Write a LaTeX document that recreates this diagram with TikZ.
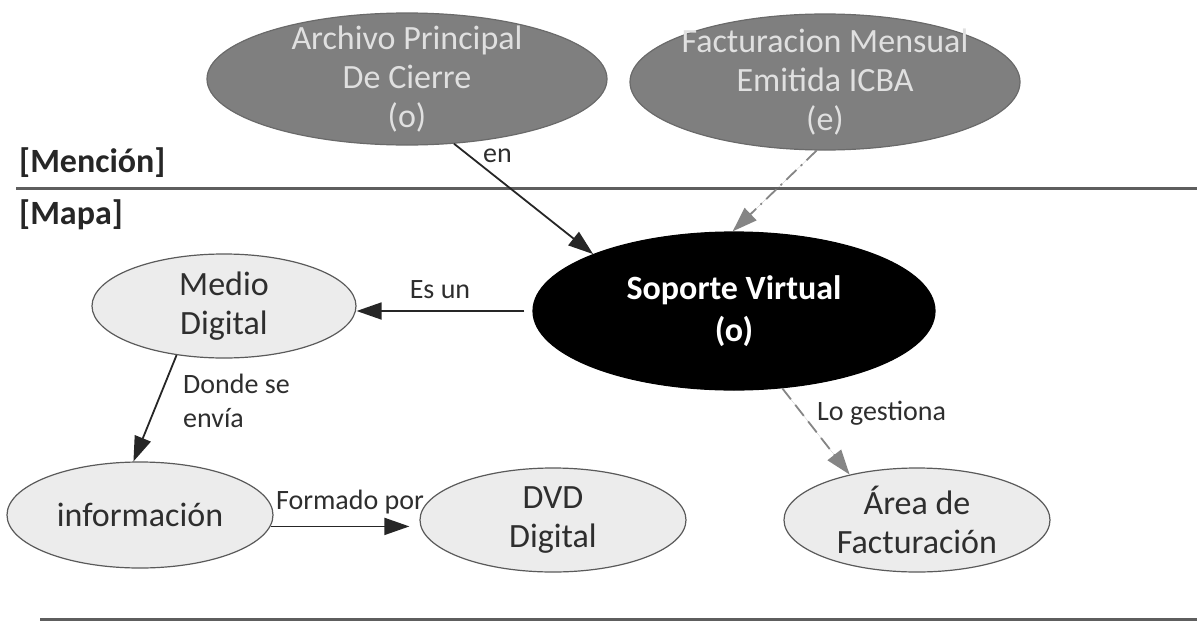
\documentclass[tikz,border=0pt]{standalone}
\usepackage{fontspec}
\setmainfont{Carlito}
\usetikzlibrary{shapes.geometric,arrows.meta,calc}

\definecolor{topfill}{HTML}{7F7F7F}
\definecolor{topdraw}{HTML}{6A6A6A}
\definecolor{toptext}{HTML}{E0E0E0}
\definecolor{lightfill}{HTML}{ECECEC}
\definecolor{lightdraw}{HTML}{5A5A5A}
\definecolor{inktext}{HTML}{2E2E2E}
\definecolor{dimline}{HTML}{858585}
\definecolor{rule}{HTML}{5E5E5E}

\tikzset{
  concept/.style={ellipse, inner sep=-6pt, align=center, line width=1.2pt,
    font=\fontsize{34}{39}\selectfont},
  mention/.style={concept, fill=topfill, draw=topdraw, text=toptext,
    inner sep=-18pt},
  mapnode/.style={concept, fill=lightfill, draw=lightdraw, text=inktext},
  focus/.style={concept, fill=black, draw=black, text=white,
    font=\fontsize{34}{42}\selectfont\bfseries},
  link/.style={line width=1.8pt, draw=black!85,
    -{Triangle[length=25pt,width=17pt]}},
  softlink/.style={link, draw=dimline, fill=dimline},
  lbl/.style={font=\fontsize{28}{34}\selectfont, text=inktext, inner sep=1pt},
  zone/.style={font=\fontsize{34}{40}\selectfont\bfseries, text=black!85,
    anchor=west, inner sep=0pt},
  divider/.style={line width=3pt, draw=rule}
}

\begin{document}
\begin{tikzpicture}[x=1pt,y=-1pt]
  \useasboundingbox (0,0) rectangle (1197,621);

  % section rules and captions
  \coordinate (ruleA) at (16,188);
  \coordinate (ruleB) at (1197,188);
  \coordinate (ruleC) at (40,619);
  \coordinate (ruleD) at (1197,619);
  \draw[divider] (ruleA) -- (ruleB);
  \draw[divider] (ruleC) -- (ruleD);
  \node[zone] (mencion) at (19,163) {[Mención]};
  \node[zone] (mapa) at (19,215) {[Mapa]};

  % concepts
  \node[mention, minimum width=400pt, minimum height=132pt] (arch) at (407,79)
    {Archivo Principal\\De Cierre\\(o)};
  \node[mention, minimum width=390pt, minimum height=136pt] (fact) at (825,82)
    {Facturacion Mensual\\Emitida ICBA\\(e)};
  \node[focus, minimum width=402pt, minimum height=158pt] (sop) at (734,311)
    {Soporte Virtual\\(o)};
  \node[mapnode, minimum width=264pt, minimum height=104pt] (med) at (224,306)
    {Medio\\Digital};
  \node[mapnode, minimum width=266pt, minimum height=106pt] (info) at (140,515)
    {información};
  \node[mapnode, minimum width=266pt, minimum height=104pt] (dvd) at (553,520)
    {DVD\\Digital};
  \node[mapnode, minimum width=266pt, minimum height=104pt] (area) at (917,520)
    {Área de\\Facturación};

  % relations
  \draw[link] (arch.-54) -- (sop.158);
  \node[lbl, anchor=west] (en) at (482,156) {en};

  \draw[softlink, dash pattern=on 14pt off 6pt on 2pt off 6pt] (fact.-97) -- (sop.91);

  \draw[link, shorten <=8pt] (sop.west) -- (sop.west -| med.east);
  \node[lbl] (esun) at (440,290) {Es un};

  \draw[link] (med.-134) -- (info.97);
  \node[lbl, anchor=west, align=left] (donde) at (182,401) {Donde se\\envía};

  \draw[link, shorten >=10pt] (info.-5) -- (info.-5 -| dvd.west);
  \node[lbl] (formado) at (350,502) {Formado por};

  \draw[softlink, dash pattern=on 14pt off 7pt] (sop.-58) -- (area.146);
  \node[lbl, anchor=west] (gest) at (816,413) {Lo gestiona};
\end{tikzpicture}
\end{document}
